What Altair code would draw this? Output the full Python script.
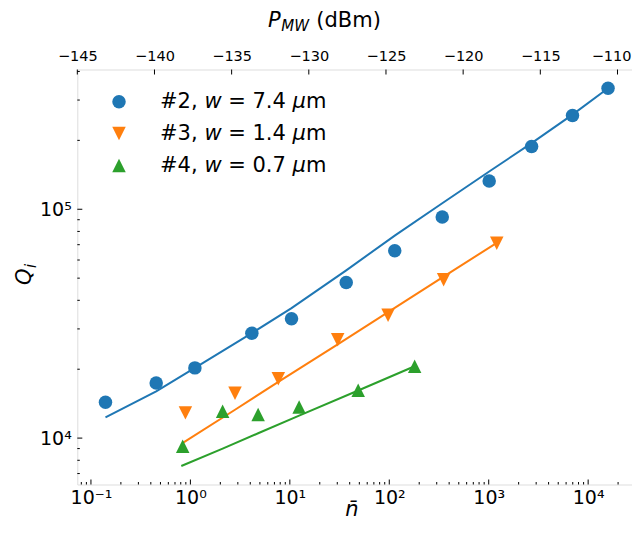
import altair as alt
import pandas as pd

# ---------------- data ----------------
SERIES = ["#2", "#3", "#4"]
COLORS = ["#1f77b4", "#ff7f0e", "#2ca02c"]

N2 = [0.14, 0.453, 1.11, 4.15, 10.4, 36.9, 113.5, 341, 1011, 2700, 6960, 15850]
Q2 = [14330, 17420, 20270, 28720, 33260, 47890, 65900, 92500, 132800, 187900, 257000, 338000]
N2_FIT = [0.14, 0.453, 1.11, 4.15, 10.4, 36.9, 113.5, 341, 1011, 2700, 6960, 15850]
Q2_FIT = [12330, 16000, 20270, 28770, 37000, 54100, 76700, 106200, 146200, 194500, 259000, 338000]

N3 = [0.891, 2.81, 7.66, 30.3, 97.3, 352, 1205]
Q3 = [12890, 15700, 18160, 26900, 34400, 49200, 71100]
N3_FIT = [0.84, 2.81, 7.66, 30.3, 97.3, 352, 1205]
Q3_FIT = [9530, 13300, 17600, 25700, 35500, 50800, 71300]

N4 = [0.837, 2.11, 4.8, 12.4, 48.7, 180]
Q4 = [9210, 13100, 12670, 13690, 16180, 20600]
N4_FIT = [0.81, 2.11, 4.8, 12.4, 48.7, 180]
Q4_FIT = [7550, 9000, 10500, 12530, 16150, 20600]

X_MAJOR = [0.1, 1, 10, 100, 1000, 10000]
X_MAJOR_LABELS = ["10⁻¹", "10⁰", "10¹", "10²", "10³", "10⁴"]
X_MINOR = [0.08, 0.09,
           0.2, 0.3, 0.4, 0.5, 0.6, 0.7, 0.8, 0.9,
           2, 3, 4, 5, 6, 7, 8, 9,
           20, 30, 40, 50, 60, 70, 80, 90,
           200, 300, 400, 500, 600, 700, 800, 900,
           2000, 3000, 4000, 5000, 6000, 7000, 8000, 9000,
           20000]
Y_MAJOR = [10000, 100000]
Y_MAJOR_LABELS = ["10⁴", "10⁵"]
Y_MINOR = [7000, 8000, 9000,
           20000, 30000, 40000, 50000, 60000, 70000, 80000, 90000,
           200000, 300000, 400000]
P_TICKS = [-145, -140, -135, -130, -125, -120, -115, -110]
P_LABELS = ["−145", "−140", "−135", "−130", "−125", "−120", "−115", "−110"]

LEGEND_PARTS = [
    ["#2,", "w", "= 7.4", "μ", "m"],
    ["#3,", "w", "= 1.4", "μ", "m"],
    ["#4,", "w", "= 0.7", "μ", "m"],
]
SHAPES = ["circle", "M0,1L-1,-1L1,-1Z", "M0,-1L-1,1L1,1Z"]

# ---------------- layout / style ----------------
W, H = 554.7, 415
PAD = {"left": 69.3, "top": 61.5, "right": 0, "bottom": 36.5}
FONT = "DejaVu Sans"
X_DOMAIN = [0.0729, 27600]
Y_DOMAIN = [6270, 408000]
P_DOMAIN = [-145, -109.06]
MSIZE = 182
TICK_FS = 19
TITLE_FS = 21
P_FS = 14.5

xscale = alt.Scale(type="log", domain=X_DOMAIN, nice=False)
yscale = alt.Scale(type="log", domain=Y_DOMAIN, nice=False)
pscale = alt.Scale(domain=P_DOMAIN, nice=False, zero=False)


def label_expr(values, labels):
    return "".join(f"datum.value == {v} ? '{l}' : " for v, l in zip(values, labels)) + "''"


x_axis = alt.Axis(orient="bottom", values=X_MAJOR,
                  labelExpr=label_expr(X_MAJOR, X_MAJOR_LABELS),
                  ticks=False, domain=False, grid=False, labelFont=FONT,
                  labelFontSize=TICK_FS, labelColor="black", labelPadding=4,
                  labelOverlap=False, labelFlush=False, title=None)
y_axis = alt.Axis(orient="left", values=Y_MAJOR,
                  labelExpr=label_expr(Y_MAJOR, Y_MAJOR_LABELS),
                  ticks=False, domain=False, grid=False, labelFont=FONT,
                  labelFontSize=TICK_FS, labelColor="black", labelPadding=6,
                  labelOverlap=False, labelFlush=False, title=None)

layers = []

# data series: lines + markers
series = [(N2, Q2, N2_FIT, Q2_FIT), (N3, Q3, N3_FIT, Q3_FIT), (N4, Q4, N4_FIT, Q4_FIT)]
for i, (n, q, nf, qf) in enumerate(series):
    dfp = pd.DataFrame({"n": n, "q": q, "s": SERIES[i]})
    dfl = pd.DataFrame({"n": nf, "q": qf, "s": SERIES[i]})
    first = i == 0
    layers.append(
        alt.Chart(dfl).mark_line(color=COLORS[i], strokeWidth=2).encode(
            x=alt.X("n:Q", scale=xscale, axis=x_axis if first else None),
            y=alt.Y("q:Q", scale=yscale, axis=y_axis if first else None),
        )
    )
    layers.append(
        alt.Chart(dfp).mark_point(shape=SHAPES[i], filled=True, opacity=1,
                                  size=MSIZE, color=COLORS[i], strokeWidth=0).encode(
            x=alt.X("n:Q", scale=xscale, axis=None),
            y=alt.Y("q:Q", scale=yscale, axis=None),
        )
    )

# inward ticks on bottom and left
for vals, ln in [(X_MAJOR, 5), (X_MINOR, 2.5)]:
    layers.append(
        alt.Chart(pd.DataFrame({"v": vals})).mark_rule(color="black", strokeWidth=1).encode(
            x=alt.X("v:Q", scale=xscale, axis=None),
            y=alt.value(H), y2=alt.value(H - ln),
        )
    )
for vals, ln in [(Y_MAJOR, 5), (Y_MINOR, 2.5)]:
    layers.append(
        alt.Chart(pd.DataFrame({"v": vals})).mark_rule(color="black", strokeWidth=1).encode(
            y=alt.Y("v:Q", scale=yscale, axis=None),
            x=alt.value(0), x2=alt.value(ln),
        )
    )

# top axis: microwave power (linear, its own scale); the last label is
# drawn separately so that it stays inside the page
layers.append(
    alt.Chart(pd.DataFrame({"p": P_TICKS})).mark_rule(color="black", strokeWidth=1).encode(
        x=alt.X("p:Q", scale=pscale,
                axis=alt.Axis(orient="top", values=P_TICKS[:-1],
                              labelExpr=label_expr(P_TICKS[:-1], P_LABELS[:-1]),
                              ticks=False, domain=False, grid=False, title=None,
                              labelFont=FONT, labelFontSize=P_FS, labelColor="black",
                              labelPadding=6, labelOverlap=False, labelFlush=False)),
        y=alt.value(0), y2=alt.value(5),
    )
)
layers.append(
    alt.Chart(pd.DataFrame({"p": P_TICKS[-1:], "t": P_LABELS[-1:]})).mark_text(
        align="right", baseline="bottom", font=FONT, fontSize=P_FS, color="black", dx=14
    ).encode(
        x=alt.X("p:Q", scale=pscale, axis=None),
        y=alt.value(-6),
        text="t:N",
    )
)

# legend (manual, to keep italic w and mu)
LEG_SYM_X = 41.7
LEG_TXT_X = 82.7
LEG_ROWS_Y = [32.2, 64.0, 96.0]
LEG_FS = 21
LEG_OFFSETS = [0, 44.4, 68.2, 132.5, 145.9]
one = alt.Data(values=[{}])
for i in range(3):
    layers.append(
        alt.Chart(one).mark_point(shape=SHAPES[i], filled=True, opacity=1, size=MSIZE,
                                  color=COLORS[i], strokeWidth=0).encode(
            x=alt.value(LEG_SYM_X), y=alt.value(LEG_ROWS_Y[i]))
    )
    for j, part in enumerate(LEGEND_PARTS[i]):
        layers.append(
            alt.Chart(one).mark_text(align="left", baseline="middle", font=FONT,
                                     fontSize=LEG_FS, color="black",
                                     fontStyle="italic" if j in (1, 3) else "normal").encode(
                x=alt.value(LEG_TXT_X + LEG_OFFSETS[j]), y=alt.value(LEG_ROWS_Y[i]),
                text=alt.value(part))
        )

# n-bar axis title
layers.append(
    alt.Chart(one).mark_text(align="center", baseline="alphabetic", font=FONT,
                             fontSize=TITLE_FS, fontStyle="italic", color="black").encode(
        x=alt.value(274.5), y=alt.value(H + 31.5), text=alt.value("n̄"))
)

# Q_i axis title (rotated)
layers.append(
    alt.Chart(one).mark_text(align="left", baseline="alphabetic", angle=270, font=FONT,
                             fontSize=TITLE_FS, fontStyle="italic", color="black").encode(
        x=alt.value(-46.0), y=alt.value(215.5), text=alt.value("Q"))
)
layers.append(
    alt.Chart(one).mark_text(align="left", baseline="alphabetic", angle=270, font=FONT,
                             fontSize=15, fontStyle="italic", color="black").encode(
        x=alt.value(-41.5), y=alt.value(198.5), text=alt.value("i"))
)

# P_MW (dBm) top title
layers.append(
    alt.Chart(one).mark_text(align="left", baseline="alphabetic", font=FONT,
                             fontSize=TITLE_FS, fontStyle="italic", color="black").encode(
        x=alt.value(190.7), y=alt.value(-43.0), text=alt.value("P"))
)
layers.append(
    alt.Chart(one).mark_text(align="left", baseline="alphabetic", font=FONT,
                             fontSize=15, fontStyle="italic", color="black").encode(
        x=alt.value(204.0), y=alt.value(-39.0), text=alt.value("MW"))
)
layers.append(
    alt.Chart(one).mark_text(align="left", baseline="alphabetic", font=FONT,
                             fontSize=TITLE_FS, color="black").encode(
        x=alt.value(239.0), y=alt.value(-43.0), text=alt.value("(dBm)"))
)

chart = alt.layer(*layers).resolve_scale(x="independent", y="independent").properties(
    width=W, height=H,
    padding=PAD,
    autosize=alt.AutoSizeParams(type="none"),
).configure_view(stroke="black", strokeWidth=1.2).configure(font=FONT)

chart.save("out.html", embed_options={"renderer": "svg", "actions": False})
